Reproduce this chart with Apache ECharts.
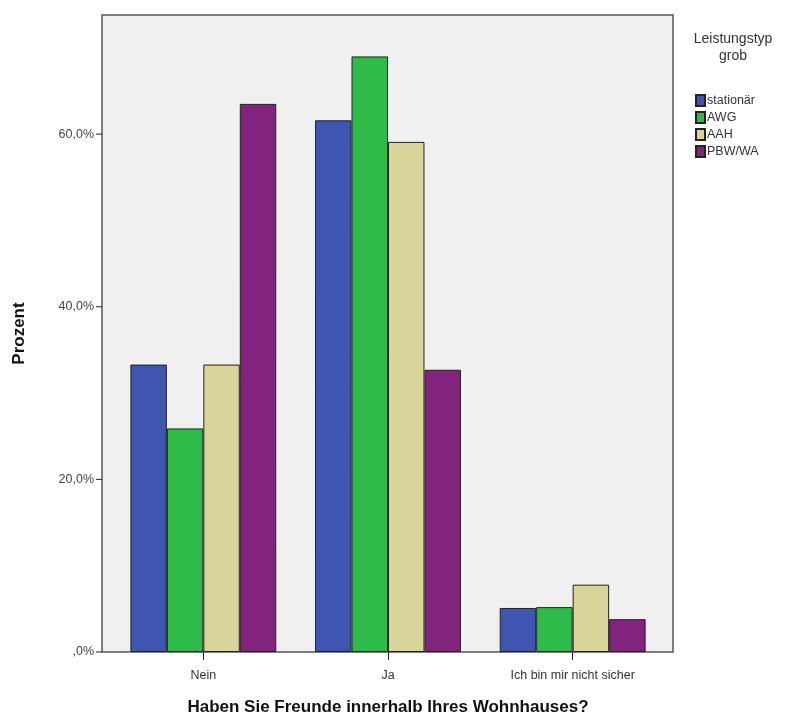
<!DOCTYPE html>
<html>
<head>
<meta charset="utf-8">
<script src="https://cdn.jsdelivr.net/npm/echarts@6/dist/echarts.min.js"></script>
<style>
html,body{margin:0;padding:0;background:#fff;}
#chart{width:795px;height:718px;}
</style>
</head>
<body>
<div id="chart"></div>
<script>
var categories = ['Nein', 'Ja', 'Ich bin mir nicht sicher'];
var seriesNames = ['stationär', 'AWG', 'AAH', 'PBW/WA'];
var stationaer = [33.3, 61.6, 5.1];
var awg = [25.9, 69.0, 5.2];
var aah = [33.3, 59.1, 7.8];
var pbwwa = [63.5, 32.7, 3.8];
var yTicks = [0, 20, 40, 60];

var colors = ['#3f56b0', '#2fbb4a', '#d8d49a', '#82237e'];
var values = [stationaer, awg, aah, pbwwa];

var chart = echarts.init(document.getElementById('chart'));
var fontFam = '"Liberation Sans", Arial, sans-serif';

var series = seriesNames.map(function (n, i) {
  return {
    name: n,
    type: 'bar',
    data: values[i],
    barGap: '0%',
    barCategoryGap: '21%',
    itemStyle: { color: colors[i], borderColor: '#222', borderWidth: 1 },
    z: 3
  };
});

chart.setOption({
  animation: false,
  textStyle: { fontFamily: fontFam },
  color: colors,
  title: {
    text: 'Leistungstyp\ngrob',
    left: 728,
    top: 26,
    textAlign: 'center',
    textStyle: { fontSize: 14, fontWeight: 'normal', color: '#333', lineHeight: 17, fontFamily: fontFam }
  },
  legend: {
    orient: 'vertical',
    left: 690,
    top: 89,
    itemWidth: 9,
    itemHeight: 11,
    itemGap: 4,
    icon: 'rect',
    textStyle: { fontSize: 12.5, color: '#333', padding: [0, 0, 0, -3] },
    data: seriesNames
  },
  grid: { left: 111, right: 130, top: 15, bottom: 66, containLabel: false, outerBoundsMode: 'none' },
  xAxis: {
    type: 'category',
    data: categories,
    name: 'Haben Sie Freunde innerhalb Ihres Wohnhauses?',
    nameLocation: 'middle',
    nameGap: 47,
    nameTextStyle: { fontSize: 17, fontWeight: 'bold', color: '#111' },
    axisLine: { show: false },
    axisTick: { show: true, alignWithLabel: true, length: 8, lineStyle: { color: '#222' } },
    axisLabel: { fontSize: 12.5, color: '#333', margin: 17 }
  },
  yAxis: {
    type: 'value',
    min: 0,
    max: 73.8,
    interval: 20,
    offset: 9,
    name: 'Prozent',
    nameLocation: 'middle',
    nameGap: 74,
    nameTextStyle: { fontSize: 17, fontWeight: 'bold', color: '#111' },
    axisLine: { show: false },
    axisTick: { show: false },
    splitLine: { show: false },
    axisLabel: {
      fontSize: 12.5,
      color: '#444',
      margin: 8,
      formatter: function (v) {
        if (yTicks.indexOf(v) < 0) return '';
        return v === 0 ? ',0%' : v.toFixed(1).replace('.', ',') + '%';
      }
    }
  },
  series: series
});

// small tick marks on the y axis (positioned through the axis scale)
var tickGraphics = yTicks.map(function (t) {
  var p = chart.convertToPixel({ gridIndex: 0 }, [0, t]);
  return { type: 'line', shape: { x1: 96, y1: p[1], x2: 102, y2: p[1] }, style: { stroke: '#222', lineWidth: 1 }, z: 5 };
});
chart.setOption({ graphic: [{
    type: 'rect',
    shape: { x: 102, y: 15, width: 571, height: 637 },
    style: { fill: '#f0f0f0', stroke: '#555', lineWidth: 1.5 },
    z: -1
  }].concat(tickGraphics) });
</script>
</body>
</html>
